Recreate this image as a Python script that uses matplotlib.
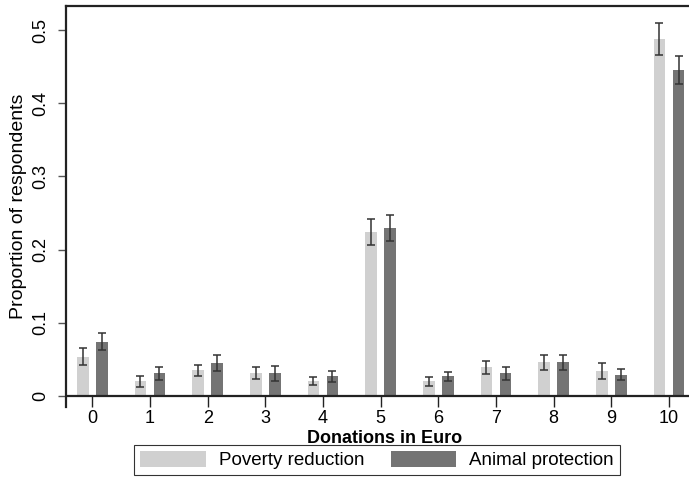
import numpy as np
import matplotlib
matplotlib.use('Agg')
import matplotlib.pyplot as plt

plt.rcParams['font.family'] = ['Liberation Sans', 'DejaVu Sans']

donations = [0, 1, 2, 3, 4, 5, 6, 7, 8, 9, 10]
poverty = [0.054, 0.020, 0.035, 0.031, 0.020, 0.224, 0.020, 0.039, 0.046, 0.034, 0.488]
poverty_err = [0.011, 0.0075, 0.0075, 0.008, 0.0056, 0.0175, 0.0065, 0.009, 0.0105, 0.0105, 0.022]
animal = [0.074, 0.031, 0.045, 0.031, 0.027, 0.230, 0.027, 0.031, 0.046, 0.029, 0.446]
animal_err = [0.0115, 0.009, 0.011, 0.010, 0.0072, 0.018, 0.006, 0.0085, 0.010, 0.0075, 0.019]

light = '#d0d0d0'
dark = '#747474'
ink = '#222222'

fig = plt.figure(figsize=(6.89, 4.86), dpi=100)
ax = fig.add_axes([66 / 689, 79 / 486, 0.9254, 401 / 486])

x = np.array(donations)
w = 0.205
ax.bar(x - 0.165, poverty, w, color=light, label='Poverty reduction', zorder=2)
ax.bar(x + 0.165, animal, w, color=dark, label='Animal protection', zorder=2)
ax.errorbar(x - 0.165, poverty, yerr=poverty_err, fmt='none', ecolor='#333333',
            elinewidth=1.1, capsize=3, capthick=1.1, zorder=3)
ax.errorbar(x + 0.165, animal, yerr=animal_err, fmt='none', ecolor='#333333',
            elinewidth=1.1, capsize=3, capthick=1.1, zorder=3)

ax.axhline(0, color=ink, lw=1.6, zorder=4)

ax.set_xlim(-0.456, 10.6)
ax.set_ylim(-0.015, 0.533)

for side in ['bottom', 'right']:
    ax.spines[side].set_visible(False)
for side in ['top', 'left']:
    ax.spines[side].set_linewidth(1.6)
    ax.spines[side].set_color(ink)

ax.set_xticks(donations)
ax.set_yticks([0, 0.1, 0.2, 0.3, 0.4, 0.5])
ax.set_yticklabels(['0', '0.1', '0.2', '0.3', '0.4', '0.5'], rotation=90, va='center')
ax.tick_params(axis='x', direction='in', length=8, width=1.0, color=ink,
               labelsize=13, pad=2)
ax.tick_params(axis='y', direction='out', length=6, width=1.0, color='#555555',
               labelsize=13, pad=6)

ax.set_xlabel('Donations in Euro', fontsize=13, fontweight='bold', labelpad=2)
ax.set_ylabel('Proportion of respondents', fontsize=14, labelpad=4)

leg = fig.legend(loc='center', bbox_to_anchor=(377 / 689, 1 - 460 / 486), ncol=2,
                 fontsize=13.5, frameon=True, fancybox=False, edgecolor='black',
                 handlelength=3.5, handleheight=1.0, handletextpad=0.7,
                 columnspacing=1.4, borderpad=0.3)
leg.get_frame().set_linewidth(0.8)

fig.savefig('out.png', dpi=100)
